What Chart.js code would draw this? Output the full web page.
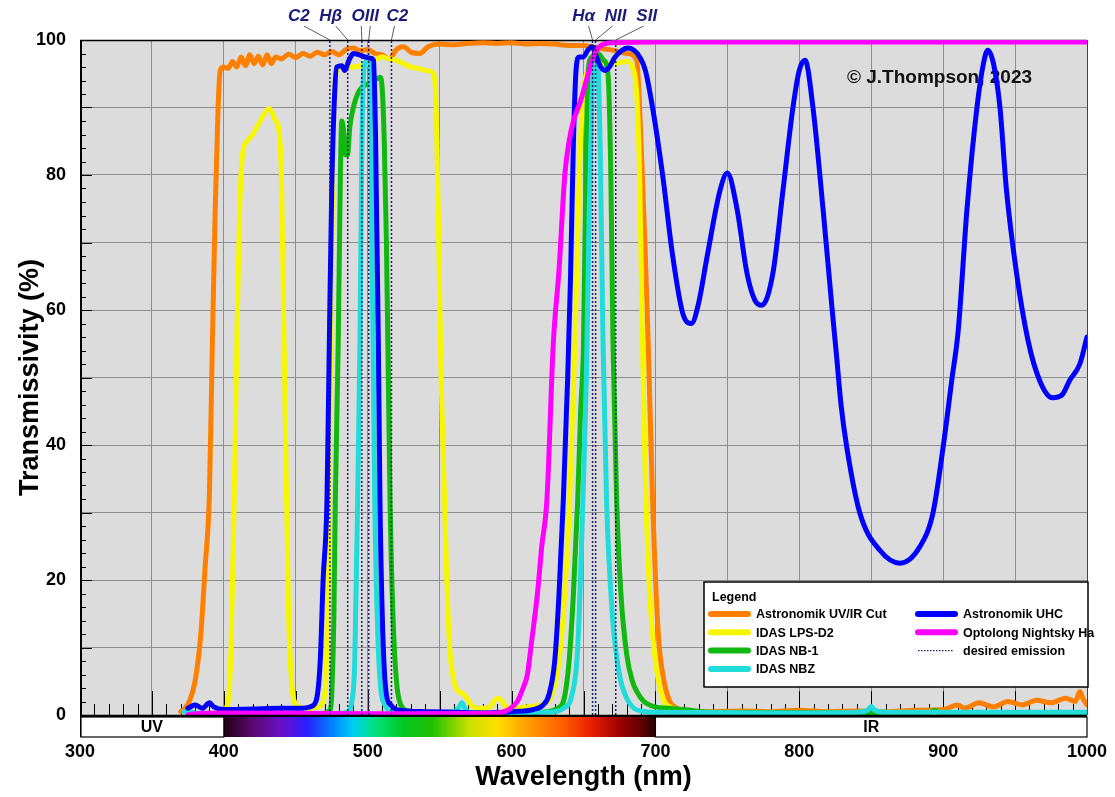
<!DOCTYPE html>
<html lang="en">
<head>
    <meta charset="UTF-8">
    <title>Filter Transmission Curves</title>
    <script src="https://cdn.jsdelivr.net/npm/chart.js"></script>
    <style>
        body { margin: 0; background: #fff; }
        #wrap { width: 1115px; height: 797px; }
    </style>
</head>
<body>
<div id="wrap"><canvas id="filterChart" width="1115" height="797"></canvas></div>
<script>
// Astronomik UV/IR Cut
const uvirWl = [370, 373, 376, 380, 384, 387, 390, 392, 394, 396, 397.5, 400, 403, 406, 409, 412, 415, 418, 421, 424, 427, 430, 433, 436, 440, 445, 450, 455, 460, 465, 470, 475, 480, 485, 490, 495, 500, 505, 510, 515, 520, 525, 530, 536, 542, 550, 560, 570, 580, 590, 600, 610, 620, 630, 640, 650, 660, 670, 680, 687, 690, 693, 695, 698, 702, 706, 710, 715, 720, 740, 760, 780, 800, 820, 840, 860, 880, 900, 910, 915, 925, 935, 945, 955, 965, 975, 985, 992, 995, 997, 1000];
const uvirT = [0.5, 1, 2, 5, 12, 22, 33, 55, 75, 90, 95.5, 96, 95.8, 96.8, 96, 97.5, 96.2, 97.8, 96.5, 97.6, 96.3, 97.8, 96.5, 97.5, 97.2, 97.9, 97.4, 98, 97.6, 98.2, 97.8, 98.3, 97.8, 98.6, 98.8, 98.4, 98.6, 98, 97.8, 97.2, 98.6, 99, 98.2, 98, 99, 99.4, 99.3, 99.5, 99.6, 99.5, 99.6, 99.4, 99.5, 99.4, 99.2, 99.2, 98.8, 98.5, 98, 97, 85, 68, 55, 32, 12, 5, 2, 1, 0.6, 0.5, 0.6, 0.5, 0.7, 0.5, 0.6, 0.5, 0.7, 0.8, 1.5, 1, 1.8, 1.2, 2, 1.5, 2.2, 1.8, 2.5, 2, 3.5, 2.5, 1.5];

// IDAS LPS-D2
const lpsWl = [395, 400, 403, 405, 407, 409, 411, 413, 416, 420, 424, 428, 431, 433, 436, 438, 440, 441.5, 443, 445, 447, 449, 452, 460, 466, 470, 472, 474, 476, 478, 482, 490, 500, 510, 515, 520, 525, 530, 535, 540, 545, 547, 549, 551, 553, 555, 557, 560, 563, 566, 569, 572, 576, 580, 585, 590, 593, 596, 600, 610, 620, 628, 633, 636, 640, 644, 647, 650, 655, 660, 670, 680, 684, 687, 689, 691, 693, 696, 700, 705, 710, 720, 730, 740, 1000];
const lpsT = [0.5, 0.8, 2, 10, 30, 55, 75, 83, 85, 86, 87.5, 89, 89.8, 89.5, 88, 87, 80, 60, 40, 15, 5, 2, 1.2, 1, 1.2, 3, 15, 50, 85, 95, 96, 96, 96.5, 97.5, 97.2, 97, 96.5, 96, 95.8, 95.5, 95.2, 93, 75, 50, 35, 20, 10, 5, 3.5, 3.2, 2.5, 1.5, 1, 1, 1.2, 2.5, 2.2, 1.2, 1, 1.2, 1.5, 3, 8, 15, 30, 55, 80, 92, 96, 96.5, 96.5, 96.8, 96, 92, 80, 55, 35, 18, 8, 2.5, 1.2, 0.7, 0.4, 0.2, 0.2];

// IDAS NB-1
const nb1Wl = [470, 474, 475, 476.5, 477.5, 479.5, 481, 482, 483, 484.5, 486, 487.5, 490, 493, 496, 500, 505, 508.5, 510, 511.5, 513, 514, 515.5, 517.5, 520, 523, 528, 540, 600, 625, 632, 636, 640, 643, 646, 648, 650, 652, 653.5, 656, 660, 664, 667, 669, 670.5, 673, 676, 680, 684, 687, 692, 700, 710, 720, 740, 890, 894, 898, 1000];
const nb1T = [0.3, 0.8, 3, 15, 32, 55, 80, 88, 87, 83, 83, 87, 90, 92, 93, 93.5, 94, 94.5, 93, 85, 70, 55, 32, 15, 5, 1.5, 0.6, 0.3, 0.3, 0.5, 1, 2, 8, 18, 32, 45, 55, 85, 96, 97.5, 98, 97, 95, 80, 55, 32, 18, 9, 5, 3.5, 2, 1.2, 1, 0.8, 0.4, 0.3, 0.7, 0.3, 0.2];

// IDAS NBZ
const nbzWl = [372, 376, 380, 400, 480, 486, 489, 491, 493, 494.6, 496, 497.5, 500, 502, 503, 504, 505, 507, 509, 512, 516, 530, 560, 563, 565.5, 568, 572, 600, 620, 630, 636, 642, 646, 649.6, 652, 654, 656, 658, 660, 661.5, 663.6, 666, 670, 675, 680, 685, 690, 700, 800, 840, 848, 850, 852, 860, 1000];
const nbzT = [0.5, 0.6, 0.3, 0.2, 0.2, 0.5, 2, 8, 32, 55, 85, 96, 97, 96, 70, 50, 30, 12, 4, 1.5, 0.5, 0.3, 0.5, 1, 1.8, 0.8, 0.3, 0.3, 0.4, 0.5, 1, 3, 10, 32, 50, 75, 92, 97, 96.5, 85, 55, 32, 15, 6, 2.5, 1, 0.6, 0.4, 0.3, 0.4, 0.8, 1.3, 0.8, 0.4, 0.4];

// Astronomik UHC
const uhcWl = [375, 380, 385, 390, 393, 400, 420, 440, 455, 460, 464, 467, 469, 471.7, 473.3, 475, 477, 478.5, 482, 484, 487, 490, 494, 498, 502, 504, 505.5, 507.4, 508.5, 510.5, 513, 516, 520, 540, 560, 580, 600, 615, 622, 626, 630, 633, 636, 639, 641, 643, 645, 647, 650, 653, 656, 659, 662, 665, 668, 672, 677, 681, 685, 689, 693, 698, 705, 712, 719, 725, 730, 736, 745, 750, 756.7, 763.6, 769, 774, 781.7, 788.7, 795.6, 800, 804, 809.5, 816.5, 822.7, 826, 829, 833, 842, 856, 870, 884, 893, 900, 906, 910.5, 916.6, 923.5, 928, 931, 935, 939.5, 944, 951, 959, 967, 976, 983, 988, 995, 1000];
const uhcT = [1, 1.5, 1, 1.8, 1.2, 0.8, 0.9, 1, 1, 1.2, 2, 8, 20, 32, 55, 78, 92, 96, 96.2, 95.5, 97, 98, 97.8, 97.5, 97.3, 97, 85, 55, 32, 12, 3, 1.5, 0.8, 0.5, 0.4, 0.3, 0.5, 0.8, 1.5, 3, 8, 18, 32, 50, 65, 85, 96, 97.5, 97.5, 98.5, 99, 97.5, 96, 95.5, 96, 97.5, 98.5, 98.8, 98.5, 97.5, 95.5, 90, 80, 68, 59.5, 58, 61, 68, 77.8, 80.3, 75, 65.5, 61.5, 60.7, 65.5, 77.8, 90, 95.5, 97, 90, 75, 60.4, 53, 46, 39.7, 30, 24.4, 22.5, 25, 30, 39.7, 49.6, 57, 75, 90, 96.5, 98.5, 96.5, 90, 77.8, 65.5, 55.5, 49.6, 47, 47.5, 49.6, 52, 56];

// Optolong Nightsky Ha
const haWl = [375, 380, 400, 500, 590, 598, 604, 608, 611, 614, 618, 621, 624.6, 629, 633, 637, 640, 643, 648, 652, 656, 661, 670, 700, 1000];
const haT = [0, 0.2, 0.3, 0.2, 0.3, 0.8, 2, 4, 6, 11, 18, 25, 32, 55, 66, 80, 85, 88, 91, 94, 97, 99, 99.6, 99.7, 99.7];

// desired emission lines (nm) and their labels
const emissionWl = [473.7, 486.1, 495.9, 500.7, 516.5, 656.3, 658.4, 672.4];
const emissionNames = ['C2', 'Hβ', 'OIII', 'OIII', 'C2', 'Hα', 'NII', 'SII'];

const seriesLabels = ['Astronomik UV/IR Cut', 'IDAS LPS-D2', 'IDAS NB-1', 'IDAS NBZ', 'Astronomik UHC', 'Optolong Nightsky Ha', 'desired emission'];

const toPts = (wl, t) => wl.map((x, i) => ({ x: x, y: t[i] }));

function emissionPts() {
    const pts = [];
    emissionWl.forEach(w => { pts.push({ x: w, y: 0 }, { x: w, y: 100 }, { x: w, y: null }); });
    return pts;
}

const lineStyle = { borderWidth: 5, pointRadius: 0, fill: false, cubicInterpolationMode: 'monotone', borderJoinStyle: 'round', borderCapStyle: 'round' };

const datasets = [
    Object.assign({ label: seriesLabels[0], data: toPts(uvirWl, uvirT), borderColor: '#ff8000', order: 6 }, lineStyle),
    Object.assign({ label: seriesLabels[1], data: toPts(lpsWl, lpsT), borderColor: '#f6f600', order: 5 }, lineStyle),
    Object.assign({ label: seriesLabels[2], data: toPts(nb1Wl, nb1T), borderColor: '#12b812', order: 4 }, lineStyle),
    Object.assign({ label: seriesLabels[3], data: toPts(nbzWl, nbzT), borderColor: '#22dcdc', order: 3 }, lineStyle),
    Object.assign({ label: seriesLabels[4], data: toPts(uhcWl, uhcT), borderColor: '#0000ff', order: 2 }, lineStyle),
    Object.assign({ label: seriesLabels[5], data: toPts(haWl, haT), borderColor: '#ff00ff', order: 1 }, lineStyle),
    { label: seriesLabels[6], data: emissionPts(), borderColor: '#20206e', borderWidth: 1.5, borderDash: [2, 2], pointRadius: 0, spanGaps: false, order: 0 }
];

// background, borders and minor ticks of the plot area
const plotFrame = {
    id: 'plotFrame',
    beforeDraw(chart) {
        const { ctx, chartArea: a } = chart;
        ctx.save();
        ctx.fillStyle = '#dcdcdc';
        ctx.fillRect(a.left, a.top, a.right - a.left, a.bottom - a.top);
        ctx.restore();
    },
    beforeDatasetsDraw(chart) {
        const { ctx, chartArea: a, scales: { x, y } } = chart;
        ctx.save();
        ctx.strokeStyle = '#000';
        ctx.lineWidth = 1;
        ctx.beginPath();
        for (let v = 0; v <= 100; v += 2) {
            const py = Math.round(y.getPixelForValue(v)) + 0.5;
            const len = v % 10 === 0 ? 12 : 6;
            ctx.moveTo(a.left, py); ctx.lineTo(a.left + len, py);
        }
        for (let w = 310; w < 1000; w += 10) {
            const px = Math.round(x.getPixelForValue(w)) + 0.5;
            const len = w % 50 === 0 ? 24 : 11;
            ctx.moveTo(px, a.bottom); ctx.lineTo(px, a.bottom - len);
        }
        ctx.stroke();
        // frame
        ctx.lineWidth = 1;
        ctx.strokeStyle = '#444';
        ctx.beginPath();
        ctx.moveTo(a.right + 0.5, a.top); ctx.lineTo(a.right + 0.5, a.bottom);
        ctx.stroke();
        ctx.strokeStyle = '#000';
        ctx.lineWidth = 1.5;
        ctx.beginPath();
        ctx.moveTo(a.left, a.top + 0.5); ctx.lineTo(a.right, a.top + 0.5);
        ctx.stroke();
        ctx.lineWidth = 2;
        ctx.beginPath();
        ctx.moveTo(a.left + 1, a.top); ctx.lineTo(a.left + 1, a.bottom + 22);
        ctx.stroke();
        // copyright note
        ctx.fillStyle = '#111';
        ctx.font = 'bold 19px Arial, "Liberation Sans", sans-serif';
        ctx.textAlign = 'left';
        ctx.textBaseline = 'middle';
        ctx.fillText('© J.Thompson, 2023', 847, 78);
        ctx.restore();
    },
    afterDatasetsDraw(chart) {
        const { ctx, chartArea: a, scales: { x } } = chart;
        ctx.save();
        // zero line
        ctx.strokeStyle = '#000';
        ctx.lineWidth = 2.5;
        ctx.beginPath();
        ctx.moveTo(a.left, a.bottom + 1); ctx.lineTo(a.right, a.bottom + 1);
        ctx.stroke();
        // spectrum strip
        const top = a.bottom + 2, h = 20;
        const x300 = x.getPixelForValue(300), x400 = x.getPixelForValue(400);
        const x700 = x.getPixelForValue(700), x1000 = x.getPixelForValue(1000);
        const g = ctx.createLinearGradient(x400, 0, x700, 0);
        const stops = [[400, '#200010'], [420, '#5a0a6e'], [440, '#6a10c8'], [458, '#2a20ff'], [475, '#0080ff'], [490, '#00d0f0'], [505, '#00e080'], [525, '#00c820'], [545, '#20c000'], [570, '#c8e000'], [590, '#ffe000'], [610, '#ffa000'], [635, '#ff6000'], [655, '#e82000'], [675, '#a00000'], [690, '#600000'], [700, '#280000']];
        stops.forEach(s => g.addColorStop((s[0] - 400) / 300, s[1]));
        ctx.fillStyle = g;
        ctx.fillRect(x400, top, x700 - x400, h);
        ctx.fillStyle = '#fff';
        ctx.fillRect(x300 + 1, top, x400 - x300 - 1, h);
        ctx.fillRect(x700, top, x1000 - x700, h);
        ctx.strokeStyle = '#000';
        ctx.lineWidth = 1.2;
        ctx.strokeRect(x300 + 1, top, x400 - x300 - 1, h);
        ctx.strokeRect(x700, top, x1000 - x700, h);
        ctx.fillStyle = '#000';
        ctx.font = 'bold 16px Arial, "Liberation Sans", sans-serif';
        ctx.textAlign = 'center';
        ctx.textBaseline = 'middle';
        ctx.fillText('UV', x.getPixelForValue(350), top + h / 2 + 1);
        ctx.fillText('IR', x.getPixelForValue(850), top + h / 2 + 1);

        // legend box
        const lx = 704, ly = 582, lw = a.right + 1 - 704, lh = 105;
        ctx.fillStyle = '#fff';
        ctx.fillRect(lx, ly, lw, lh);
        ctx.strokeStyle = '#000';
        ctx.lineWidth = 1.5;
        ctx.strokeRect(lx, ly, lw, lh);
        ctx.fillStyle = '#000';
        ctx.textAlign = 'left';
        ctx.font = 'bold 12.5px Arial, "Liberation Sans", sans-serif';
        ctx.fillText('Legend', lx + 8, ly + 16);
        const ds = chart.data.datasets;
        const slots = [[0, 0, 0], [1, 0, 1], [2, 0, 2], [3, 0, 3], [4, 1, 0], [5, 1, 1], [6, 1, 2]];
        slots.forEach(([i, col, row]) => {
            const sx = col === 0 ? lx + 4 : lx + 211;
            const sy = ly + 32 + row * 18.3;
            ctx.save();
            ctx.strokeStyle = ds[i].borderColor;
            if (i === 6) {
                ctx.lineWidth = 1.2;
                ctx.setLineDash([1.5, 1.5]);
                ctx.beginPath(); ctx.moveTo(sx + 3, sy); ctx.lineTo(sx + 38, sy); ctx.stroke();
            } else {
                ctx.lineWidth = 6;
                ctx.lineCap = 'round';
                ctx.beginPath(); ctx.moveTo(sx + 3, sy); ctx.lineTo(sx + 40, sy); ctx.stroke();
            }
            ctx.restore();
            ctx.fillText(ds[i].label, sx + 48, sy + 1);
        });
        ctx.restore();
    },
    afterDraw(chart) {
        const { ctx, chartArea: a, scales: { x } } = chart;
        ctx.save();
        // emission labels over the plot with leader lines
        const groups = [
            { text: 'C2', idx: [0], dx: -31 },
            { text: 'Hβ', idx: [1], dx: -17 },
            { text: 'OIII', idx: [2, 3], dx: 0 },
            { text: 'C2', idx: [4], dx: 6 },
            { text: 'Hα', idx: [5], dx: -9 },
            { text: 'NII', idx: [6], dx: 20 },
            { text: 'SII', idx: [7], dx: 31 }
        ];
        ctx.font = 'italic bold 17px Arial, "Liberation Sans", sans-serif';
        ctx.textAlign = 'center';
        ctx.textBaseline = 'middle';
        groups.forEach(gp => {
            const base = x.getPixelForValue(emissionWl[gp.idx[0]]);
            const cx = gp.idx.length > 1 ? (base + x.getPixelForValue(emissionWl[gp.idx[1]])) / 2 + gp.dx : base + gp.dx;
            ctx.fillStyle = '#1c1c78';
            ctx.fillText(gp.text, cx, 16);
            ctx.strokeStyle = '#333';
            ctx.lineWidth = 0.8;
            ctx.beginPath();
            gp.idx.forEach((k, j) => {
                const px = x.getPixelForValue(emissionWl[k]);
                const sx = gp.idx.length > 1 ? cx - 4 + j * 9 : cx + (gp.dx < 0 ? 5 : -3);
                ctx.moveTo(sx, 26); ctx.lineTo(px, a.top);
            });
            ctx.stroke();
        });
        ctx.restore();
    }
};

const tickFont = { family: 'Arial, "Liberation Sans", sans-serif', size: 18, weight: 'bold' };
const titleFont = { family: 'Arial, "Liberation Sans", sans-serif', size: 27, weight: 'bold' };

new Chart(document.getElementById('filterChart').getContext('2d'), {
    type: 'line',
    data: { datasets: datasets },
    options: {
        responsive: false,
        animation: false,
        events: [],
        layout: { padding: { top: 40, right: 28, left: 0, bottom: 0 } },
        plugins: { legend: { display: false }, tooltip: { enabled: false } },
        scales: {
            x: {
                type: 'linear',
                min: 300, max: 1000,
                afterFit: s => { s.height = 82; s.paddingLeft = 0; s.paddingRight = 0; },
                grid: { color: '#8e8e8e', lineWidth: 1, drawTicks: false },
                border: { display: false },
                ticks: {
                    stepSize: 50, padding: 26, color: '#000', font: tickFont, maxRotation: 0,
                    callback: v => (v % 100 === 0 ? v : '')
                },
                title: { display: true, text: 'Wavelength (nm)', color: '#000', font: titleFont, padding: { top: 0, bottom: 3 } }
            },
            y: {
                min: 0, max: 100,
                afterFit: s => { s.width = 80; s.paddingTop = 0; s.paddingBottom = 0; },
                grid: { color: '#8e8e8e', lineWidth: 1, drawTicks: false },
                border: { display: false },
                ticks: {
                    stepSize: 10, padding: 14, color: '#000', font: tickFont,
                    callback: v => (v % 20 === 0 ? v : '')
                },
                title: { display: true, text: 'Transmissivity (%)', color: '#000', font: titleFont, padding: { top: 14, bottom: 0 } }
            }
        }
    },
    plugins: [plotFrame]
});
</script>
</body>
</html>
